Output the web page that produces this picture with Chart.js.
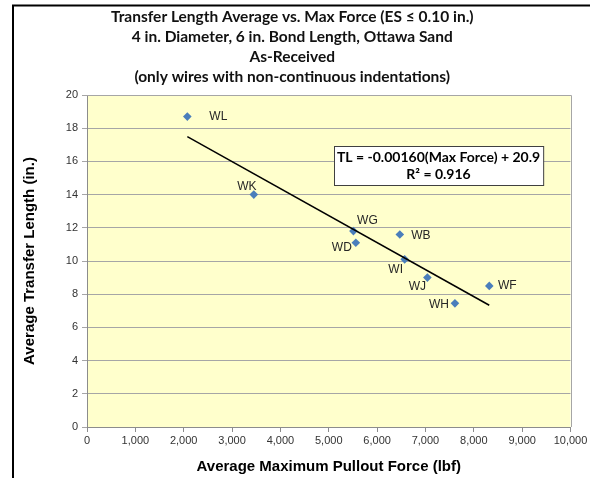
<!DOCTYPE html>
<html>
<head>
<meta charset="utf-8">
<script src="https://cdn.jsdelivr.net/npm/chart.js@4/dist/chart.umd.min.js"></script>
<style>
html,body{margin:0;padding:0;background:#fff;}
canvas{display:block;}
</style>
</head>
<body>
<canvas id="c" width="590" height="478"></canvas>
<script>
// ---- data ----
const wireLabels = ['WL', 'WK', 'WG', 'WB', 'WD', 'WI', 'WJ', 'WF', 'WH'];
const maxForce = [2075, 3450, 5510, 6470, 5560, 6570, 7040, 8320, 7610];       // lbf
const transferLength = [18.7, 14.0, 11.8, 11.6, 11.1, 10.1, 9.0, 8.5, 7.45];   // in.
const xTicks = [0, 1000, 2000, 3000, 4000, 5000, 6000, 7000, 8000, 9000, 10000];
const yTicks = [0, 2, 4, 6, 8, 10, 12, 14, 16, 18, 20];
const titleLines = [
  'Transfer Length Average vs. Max Force (ES \u2264 0.10 in.)',
  '4 in. Diameter, 6 in. Bond Length, Ottawa Sand',
  'As-Received',
  '(only wires with non-continuous indentations)'
];
const xTitle = 'Average Maximum Pullout Force (lbf)';
const yTitle = 'Average Transfer Length (in.)';
const equationLines = ['TL = -0.00160(Max Force) + 20.9', 'R\u00b2 = 0.916'];

// ---- styling (label nudges in px, equation box anchor in data units) ----
const labelNudge = [[31,0],[-7,-8],[14,-10],[21,1],[-14,5],[-9,10],[-10,9],[18,0],[-16,1]];
const eqAnchor = {x: 7270, y: 15.75};

// linear least-squares trendline over the data (Excel "linear trendline")
const n = maxForce.length;
const mx = maxForce.reduce((a,b)=>a+b,0)/n;
const my = transferLength.reduce((a,b)=>a+b,0)/n;
let sxy = 0, sxx = 0;
for (let i=0;i<n;i++){ sxy += (maxForce[i]-mx)*(transferLength[i]-my); sxx += (maxForce[i]-mx)**2; }
const slope = sxy/sxx, intercept = my - slope*mx;
const xMin = Math.min(...maxForce), xMax = Math.max(...maxForce);
const trend = [{x:xMin, y:intercept+slope*xMin}, {x:xMax, y:intercept+slope*xMax}];

const points = maxForce.map((x,i)=>({x, y: transferLength[i]}));

const SANS = "'Liberation Sans', Arial, sans-serif";
const CAL = "Lato, 'Open Sans', sans-serif";

const decor = {
  id: 'decor',
  beforeDraw(chart){
    const {ctx, chartArea:a} = chart;
    ctx.save();
    ctx.fillStyle = '#ffffff';
    ctx.fillRect(0,0,chart.width,chart.height);
    ctx.fillStyle = '#FFFFCC';
    ctx.fillRect(a.left, a.top, a.right-a.left, a.bottom-a.top);
    ctx.strokeStyle = '#000'; ctx.lineWidth = 2;
    ctx.beginPath();
    ctx.moveTo(13, chart.height); ctx.lineTo(13, 5.5); ctx.lineTo(chart.width, 5.5);
    ctx.stroke();
    ctx.restore();
  },
  beforeDatasetsDraw(chart){
    const {ctx, chartArea:a} = chart;
    ctx.save();
    ctx.strokeStyle = '#A6A6A6'; ctx.lineWidth = 1;
    ctx.beginPath();
    ctx.moveTo(a.left, Math.round(a.top)+0.5);
    ctx.lineTo(Math.round(a.right)+0.5, Math.round(a.top)+0.5);
    ctx.lineTo(Math.round(a.right)+0.5, a.bottom);
    ctx.stroke();
    ctx.restore();
  },
  afterDatasetsDraw(chart){
    const {ctx} = chart;
    const meta = chart.getDatasetMeta(0);
    ctx.save();
    ctx.font = '12px ' + SANS;
    ctx.fillStyle = '#262626';
    ctx.textAlign = 'center'; ctx.textBaseline = 'middle';
    meta.data.forEach((el,i)=>{
      const [dx,dy] = labelNudge[i];
      ctx.fillText(wireLabels[i], el.x+dx, el.y+dy);
    });
    // equation box
    const xs = chart.scales.x, ys = chart.scales.y;
    const cx = xs.getPixelForValue(eqAnchor.x), cy = ys.getPixelForValue(eqAnchor.y);
    ctx.font = 'bold 14px ' + CAL;
    const w = Math.max(...equationLines.map(t=>ctx.measureText(t).width)) + 6;
    const lh = 17, h = lh*equationLines.length + 5;
    const bx = Math.round(cx - w/2)+0.5, by = Math.round(cy - h/2)+0.5;
    ctx.fillStyle = '#fff';
    ctx.fillRect(bx, by, w, h);
    ctx.strokeStyle = '#404040'; ctx.lineWidth = 1;
    ctx.strokeRect(bx, by, w, h);
    ctx.fillStyle = '#000';
    equationLines.forEach((t,i)=>{
      ctx.fillText(t, cx, by + 2.5 + lh/2 + i*lh);
    });
    ctx.restore();
  }
};

new Chart(document.getElementById('c'), {
  type: 'scatter',
  data: {
    datasets: [
      {
        label: 'Transfer length',
        data: points,
        pointStyle: 'rectRot',
        pointRadius: 4.3,
        backgroundColor: '#4A7EBB',
        borderColor: '#4A7EBB',
        borderWidth: 0,
        showLine: false,
        order: 1
      },
      {
        label: 'Linear trend',
        data: trend,
        showLine: true,
        borderColor: '#000',
        borderWidth: 1.5,
        pointRadius: 0,
        fill: false,
        order: 0
      }
    ]
  },
  options: {
    responsive: false,
    animation: false,
    devicePixelRatio: 1,
    layout: { padding: { left: 14, right: 19.5, top: 0, bottom: 0 } },
    plugins: {
      legend: { display: false },
      tooltip: { enabled: false },
      title: {
        display: true,
        text: titleLines,
        color: '#111',
        font: { family: CAL, size: 15.5, weight: 'bold', lineHeight: 20/15.5 },
        padding: { top: 7, bottom: 8 }
      }
    },
    scales: {
      x: {
        type: 'linear',
        min: 0, max: 10000,
        afterBuildTicks: s => { s.ticks = xTicks.map(v=>({value:v})); },
        afterFit: s => { s.height = 51; },
        ticks: {
          font: { family: SANS, size: 11 },
          color: '#333',
          padding: 2,
          maxRotation: 0,
          callback: v => Number(v).toLocaleString('en-US')
        },
        grid: { drawOnChartArea: false, tickLength: 5, color: '#8C8C8C' },
        border: { display: true, color: '#8C8C8C' },
        title: {
          display: true,
          text: xTitle,
          color: '#000',
          font: { family: SANS, size: 15, weight: 'bold', lineHeight: 1.2 },
          padding: { top: 0, bottom: 2 }
        }
      },
      y: {
        type: 'linear',
        min: 0, max: 20,
        afterBuildTicks: s => { s.ticks = yTicks.map(v=>({value:v})); },
        afterFit: s => { s.width = 73; },
        ticks: {
          font: { family: SANS, size: 11 },
          color: '#333',
          padding: 4
        },
        grid: { color: '#A6A6A6', tickLength: 5 },
        border: { display: true, color: '#8C8C8C' },
        title: {
          display: true,
          text: yTitle,
          color: '#000',
          font: { family: SANS, size: 15, weight: 'bold', lineHeight: 1.2 },
          padding: { top: 7, bottom: 0 }
        }
      }
    }
  },
  plugins: [decor]
});
</script>
</body>
</html>
